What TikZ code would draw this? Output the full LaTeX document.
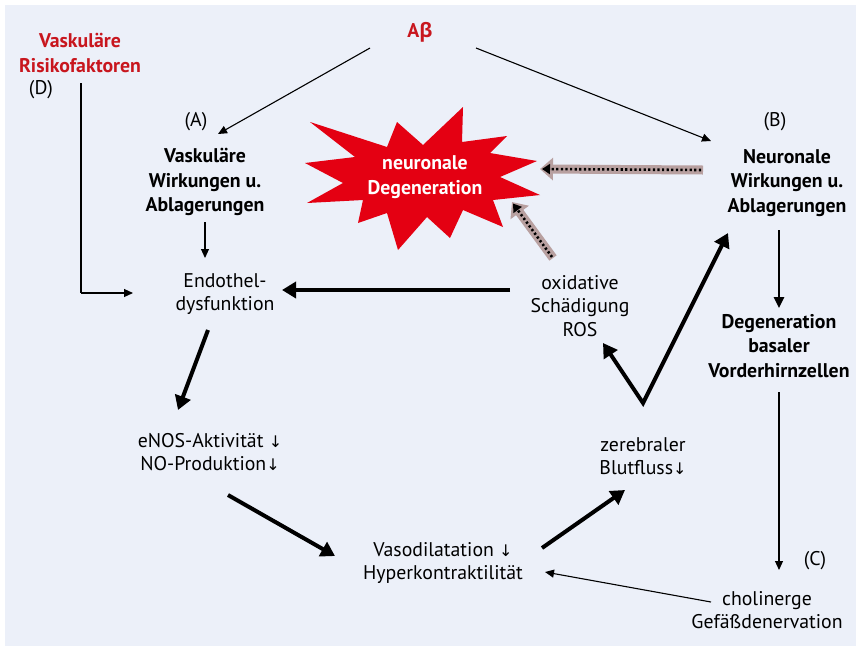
\documentclass[tikz,border=0pt]{standalone}
\usepackage{fontspec}
\setmainfont{PT Sans}
\newfontfamily\grkfont{Open Sans}
\newfontfamily\symfont{DejaVu Sans}
\newcommand{\darr}{{\symfont\fontsize{16}{16}\selectfont ↓}}
\usetikzlibrary{arrows.meta,calc}
\definecolor{bgc}{RGB}{236,240,249}
\definecolor{redtxt}{RGB}{200,22,30}
\definecolor{starred}{RGB}{228,0,18}
\definecolor{band}{RGB}{184,160,160}
\tikzset{
  txt/.style={align=center, inner sep=0pt, font=\fontsize{19.8}{23.5}\selectfont},
  btxt/.style={align=center, inner sep=0pt, font=\fontsize{19.8}{24.5}\selectfont\bfseries},
  rtxt/.style={btxt, text=redtxt},
  lab/.style={inner sep=0pt, font=\fontsize{19.8}{22}\selectfont},
  thinarr/.style={line width=1.1, -{Triangle[length=9,width=8]}},
  thickarr/.style={line width=4, -{Triangle[length=14,width=16]}, line join=miter},
  midarr/.style={line width=2.5, -{Triangle[length=11,width=10]}},
  bandarr/.style={line width=9, color=band, -{Triangle[length=13,width=22]}},
  dotarr/.style={line width=2.6, dash pattern=on 2.2 off 2.4, -{Triangle[length=8,width=10]}}
}
\begin{document}
\begin{tikzpicture}[x=1pt,y=-1pt]
\useasboundingbox (0,0) rectangle (856,646);
\fill[white] (0,0) rectangle (856,646);
\fill[bgc] (5,5) rectangle (856,646);

% star
\fill[starred] (310,122) -- (387,147) -- (397,122) -- (423,145) -- (463,107) -- (462,142)
 -- (507,136) -- (490,153) -- (537,161) -- (500,177) -- (540,195) -- (493,200)
 -- (503,227) -- (463,210) -- (450,238) -- (427,217) -- (398,250) -- (387,213)
 -- (358,223) -- (363,200) -- (307,203) -- (343,183) -- (305,163) -- (355,157) -- cycle;
\node[btxt, text=white] (star) at (425,177) {neuronale\\Degeneration};

% nodes
\node[rtxt] (ab) at (420,32) {A{\grkfont β}};
\node[rtxt] (risk) at (80,53) {Vaskuläre\\Risikofaktoren};
\node[lab] (D) at (41,90) {(D)};
\node[lab] (Alab) at (196,122) {(A)};
\node[btxt] (A) at (205,182) {Vaskuläre\\Wirkungen u.\\Ablagerungen};
\node[lab] (Blab) at (775,122) {(B)};
\node[btxt] (B) at (787,183) {Neuronale\\Wirkungen u.\\Ablagerungen};
\node[txt] (endo) at (225,294) {Endothel-\\dysfunktion};
\node[txt] (ros) at (580,306) {oxidative\\Schädigung\\ROS};
\node[txt] (enos) at (210,452) {eNOS-Aktivität \darr\\NO-Produktion\darr};
\node[txt] (vaso) at (443,563) {Vasodilatation \darr\\Hyperkontraktilität};
\node[txt] (zer) at (643,456) {zerebraler\\Blutfluss\darr};
\node[btxt] (vord) at (779,346) {Degeneration\\basaler\\Vorderhirnzellen};
\node[lab] (Clab) at (815,561) {(C)};
\node[txt] (chol) at (767,610) {cholinerge\\Gefäßdenervation};

% connectors
\draw[thinarr] ([shift={(-50,16)}]ab.center) -- ([shift={(13,-48)}]A.center);
\draw[thinarr] ([shift={(56,16)}]ab.center) -- ([shift={(-76,-42)}]B.center);
\coordinate (dstart) at ([shift={(1,30)}]risk.center);
\coordinate (dend) at ([shift={(-92,-1)}]endo.center);
\draw[line width=2.6] (dstart) -- (dstart |- dend);
\draw[thinarr] (dstart |- dend) -- (dend);
\draw[thinarr] ([shift={(0,40)}]A.center) -- ([shift={(-20,-36)}]endo.center);
\draw[thickarr] ([shift={(-70,-16)}]ros.center) -- ([shift={(57,-4)}]endo.center);
\draw[thickarr] ([shift={(-17,36)}]endo.center) -- ([shift={(-32,-42)}]enos.center);
\draw[thickarr] ([shift={(18,43)}]enos.center) -- ([shift={(-108,-7)}]vaso.center);
\draw[thickarr] ([shift={(99,-15)}]vaso.center) -- ([shift={(-18,34)}]zer.center);
\draw[line width=4, {Triangle[length=14,width=16]}-{Triangle[length=14,width=16]}, line join=miter, miter limit=10]
  ([shift={(23,37)}]ros.center) -- ([shift={(0,-53)}]zer.center) -- ([shift={(-59,50)}]B.center);
\draw[midarr] ([shift={(-8,47)}]B.center) -- ([shift={(0,-38)}]vord.center);
\draw[thinarr] ([shift={(0,46)}]vord.center) -- ([shift={(12,-40)}]chol.center);
\draw[thinarr] ([shift={(-56,-8)}]chol.center) -- ([shift={(102,9)}]vaso.center);

% dotted band arrows
\draw[bandarr] ([shift={(-84,-13)}]B.center) -- ([shift={(115,-8)}]star.center);
\draw[dotarr] ([shift={(-86,-13)}]B.center) -- ([shift={(117,-8)}]star.center);
\draw[bandarr] ([shift={(-27,-48)}]ros.center) -- ([shift={(87,25)}]star.center);
\draw[dotarr] ([shift={(-28,-49)}]ros.center) -- ([shift={(88,26.5)}]star.center);
\end{tikzpicture}
\end{document}
